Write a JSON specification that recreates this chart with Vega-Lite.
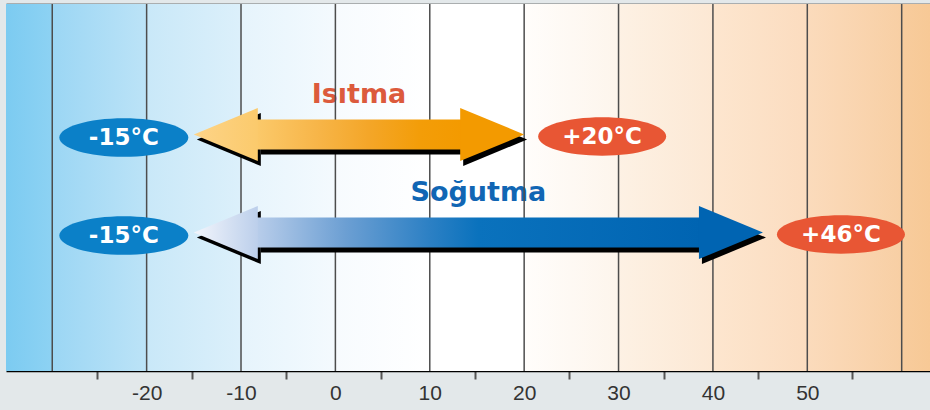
{
  "$schema": "https://vega.github.io/schema/vega-lite/v6.json",
  "width": 924,
  "height": 367,
  "autosize": {"type": "none"},
  "padding": {"left": 6, "top": 4, "right": 0, "bottom": 39},
  "background": "#e3e8ea",
  "config": {"view": {"stroke": null}, "scale": {"pointPadding": 0}},
  "datasets": {
    "arrows": [
      {"mode": "Isıtma", "low": -15, "high": 20, "lowLabel": "-15°C", "highLabel": "+20°C"},
      {"mode": "Soğutma", "low": -15, "high": 45.3, "lowLabel": "-15°C", "highLabel": "+46°C"}
    ],
    "gridlines": [
      {"t": -30}, {"t": -20}, {"t": -10}, {"t": 0}, {"t": 10},
      {"t": 20}, {"t": 30}, {"t": 40}, {"t": 50}, {"t": 60}
    ],
    "panel": [{"name": "background"}]
  },
  "resolve": {"axis": {"x": "independent"}},
  "layer": [
    {
      "data": {"name": "panel"},
      "mark": {
        "type": "rect",
        "fill": {
          "gradient": "linear", "x1": 0, "y1": 0, "x2": 1, "y2": 0,
          "stops": [
            {"offset": 0, "color": "#7ccbf1"}, {"offset": 0.05005, "color": "#8dd2f3"},
            {"offset": 0.05005, "color": "#9bd6f4"}, {"offset": 0.1522, "color": "#bce3f7"},
            {"offset": 0.1522, "color": "#c9e8f8"}, {"offset": 0.2543, "color": "#dcf0fb"},
            {"offset": 0.2543, "color": "#e6f4fc"}, {"offset": 0.3565, "color": "#f4fafe"},
            {"offset": 0.3565, "color": "#f7fbfe"}, {"offset": 0.4586, "color": "#ffffff"},
            {"offset": 0.5608, "color": "#ffffff"},
            {"offset": 0.5608, "color": "#fffdfb"}, {"offset": 0.6629, "color": "#fdf5ec"},
            {"offset": 0.6629, "color": "#fdf1e4"}, {"offset": 0.7651, "color": "#fce8d4"},
            {"offset": 0.7651, "color": "#fde6cf"}, {"offset": 0.8672, "color": "#fbdcbf"},
            {"offset": 0.8672, "color": "#fbdbbc"}, {"offset": 0.9694, "color": "#f8cfa4"},
            {"offset": 0.9694, "color": "#f8cc9d"}, {"offset": 1, "color": "#f7c996"}
          ]
        }
      },
      "encoding": {
        "x": {"value": 0}, "x2": {"value": "width"},
        "y": {"value": 0}, "y2": {"value": "height"}
      }
    },
    {
      "data": {"name": "arrows"},
      "transform": [{"fold": ["low", "high"], "as": ["end", "pos"]}],
      "mark": {"type": "text", "font": "DejaVu Sans", "fontWeight": "bold", "fontSize": 27, "baseline": "alphabetic", "align": "center", "dy": -32},
      "encoding": {
        "x": {"aggregate": "mean", "field": "pos", "type": "quantitative", "scale": {"domain": [-34.9, 63], "nice": false, "zero": false}, "axis": null},
        "y": {"field": "mode", "type": "nominal", "scale": {"type": "point", "domain": ["Isıtma", "Soğutma"], "range": [130.5, 228.5], "padding": 0}, "axis": null},
        "text": {"field": "mode"},
        "color": {"field": "mode", "type": "nominal", "scale": {"domain": ["Isıtma", "Soğutma"], "range": ["#dc5a3c", "#1166b4"]}, "legend": null}
      }
    },
    {
      "data": {"name": "gridlines"},
      "mark": {"type": "rule", "color": "#4d4d4d", "strokeWidth": 1.5},
      "encoding": {
        "x": {
          "field": "t", "type": "quantitative",
          "scale": {"domain": [-34.9, 63], "nice": false, "zero": false},
          "axis": {
            "orient": "bottom", "title": null, "grid": false,
            "values": [-25, -20, -15, -10, -5, 0, 5, 10, 15, 20, 25, 30, 35, 40, 45, 50, 55],
            "domain": true, "domainColor": "#000000", "domainWidth": 1.5,
            "ticks": true, "tickSize": 8, "tickWidth": 2, "tickColor": "#555555",
            "tickOffset": -2, "labelOffset": 2,
            "tickOpacity": {"condition": {"test": "datum.value % 10 === 0", "value": 0}, "value": 1},
            "labelExpr": "datum.value % 10 === 0 ? '' + datum.value : ''",
            "labelFont": "Liberation Sans", "labelFontSize": 21, "labelColor": "#333333",
            "labelPadding": 3, "labelOverlap": false, "labelFlush": false, "labelBound": false
          }
        }
      }
    },
    {
      "data": {"name": "arrows"},
      "mark": {"type": "rect", "color": "#000000", "height": 30, "xOffset": 67, "x2Offset": -61, "yOffset": 5},
      "encoding": {
        "x": {
          "field": "low", "type": "quantitative",
          "scale": {"domain": [-34.9, 63], "nice": false, "zero": false},
          "axis": {"orient": "top", "title": null, "labels": false, "ticks": false, "grid": false, "domain": true, "domainColor": "#000000", "domainWidth": 1.5}
        },
        "x2": {"field": "high"},
        "y": {"field": "mode", "type": "nominal", "scale": {"type": "point", "domain": ["Isıtma", "Soğutma"], "range": [130.5, 228.5], "padding": 0}, "axis": null}
      }
    },
    {
      "data": {"name": "arrows"},
      "mark": {"type": "point", "shape": "M -1 0 L 1 -0.83 L 1 0.83 Z", "size": 4096, "filled": true, "opacity": 1, "fill": "#000000", "strokeWidth": 0, "xOffset": 35, "yOffset": 5},
      "encoding": {
        "x": {"field": "low", "type": "quantitative", "scale": {"domain": [-34.9, 63], "nice": false, "zero": false}, "axis": null},
        "y": {"field": "mode", "type": "nominal", "scale": {"type": "point", "domain": ["Isıtma", "Soğutma"], "range": [130.5, 228.5], "padding": 0}, "axis": null}
      }
    },
    {
      "data": {"name": "arrows"},
      "mark": {"type": "point", "shape": "M 1 0 L -1 -0.83 L -1 0.83 Z", "size": 4096, "filled": true, "opacity": 1, "fill": "#000000", "strokeWidth": 0, "xOffset": -29, "yOffset": 5},
      "encoding": {
        "x": {"field": "high", "type": "quantitative", "scale": {"domain": [-34.9, 63], "nice": false, "zero": false}, "axis": null},
        "y": {"field": "mode", "type": "nominal", "scale": {"type": "point", "domain": ["Isıtma", "Soğutma"], "range": [130.5, 228.5], "padding": 0}, "axis": null}
      }
    },
    {
      "data": {"name": "arrows"},
      "transform": [{"filter": "datum.mode === 'Isıtma'"}],
      "mark": {"type": "rect", "height": 30, "xOffset": 63, "x2Offset": -63,
        "fill": {"gradient": "linear", "x1": 0, "y1": 0, "x2": 1, "y2": 0, "stops": [
          {"offset": 0, "color": "#fbc96a"}, {"offset": 0.3, "color": "#f7b548"}, {"offset": 0.55, "color": "#f4a628"}, {"offset": 0.8, "color": "#f39d08"}, {"offset": 1, "color": "#f39a00"}]}},
      "encoding": {
        "x": {"field": "low", "type": "quantitative", "scale": {"domain": [-34.9, 63], "nice": false, "zero": false}, "axis": null},
        "x2": {"field": "high"},
        "y": {"field": "mode", "type": "nominal", "scale": {"type": "point", "domain": ["Isıtma", "Soğutma"], "range": [130.5, 228.5], "padding": 0}, "axis": null}
      }
    },
    {
      "data": {"name": "arrows"},
      "transform": [{"filter": "datum.mode === 'Isıtma'"}],
      "mark": {"type": "point", "shape": "M -1 0 L 1 -0.83 L 1 0.83 Z", "size": 4096, "filled": true, "opacity": 1, "strokeWidth": 0, "xOffset": 32,
        "fill": {"gradient": "linear", "x1": 0, "y1": 0, "x2": 1, "y2": 0, "stops": [{"offset": 0, "color": "#fdd488"}, {"offset": 1, "color": "#fbca6c"}]}},
      "encoding": {
        "x": {"field": "low", "type": "quantitative", "scale": {"domain": [-34.9, 63], "nice": false, "zero": false}, "axis": null},
        "y": {"field": "mode", "type": "nominal", "scale": {"type": "point", "domain": ["Isıtma", "Soğutma"], "range": [130.5, 228.5], "padding": 0}, "axis": null}
      }
    },
    {
      "data": {"name": "arrows"},
      "transform": [{"filter": "datum.mode === 'Isıtma'"}],
      "mark": {"type": "point", "shape": "M 1 0 L -1 -0.83 L -1 0.83 Z", "size": 4096, "filled": true, "opacity": 1, "strokeWidth": 0, "xOffset": -32, "fill": "#f39a00"},
      "encoding": {
        "x": {"field": "high", "type": "quantitative", "scale": {"domain": [-34.9, 63], "nice": false, "zero": false}, "axis": null},
        "y": {"field": "mode", "type": "nominal", "scale": {"type": "point", "domain": ["Isıtma", "Soğutma"], "range": [130.5, 228.5], "padding": 0}, "axis": null}
      }
    },
    {
      "data": {"name": "arrows"},
      "transform": [{"filter": "datum.mode === 'Soğutma'"}],
      "mark": {"type": "rect", "height": 30, "xOffset": 63, "x2Offset": -63,
        "fill": {"gradient": "linear", "x1": 0, "y1": 0, "x2": 1, "y2": 0, "stops": [
          {"offset": 0, "color": "#b8cdea"}, {"offset": 0.2, "color": "#6c9fd3"}, {"offset": 0.39, "color": "#2c80c4"}, {"offset": 0.5, "color": "#0a72bd"}, {"offset": 1, "color": "#0064b2"}]}},
      "encoding": {
        "x": {"field": "low", "type": "quantitative", "scale": {"domain": [-34.9, 63], "nice": false, "zero": false}, "axis": null},
        "x2": {"field": "high"},
        "y": {"field": "mode", "type": "nominal", "scale": {"type": "point", "domain": ["Isıtma", "Soğutma"], "range": [130.5, 228.5], "padding": 0}, "axis": null}
      }
    },
    {
      "data": {"name": "arrows"},
      "transform": [{"filter": "datum.mode === 'Soğutma'"}],
      "mark": {"type": "point", "shape": "M -1 0 L 1 -0.83 L 1 0.83 Z", "size": 4096, "filled": true, "opacity": 1, "strokeWidth": 0, "xOffset": 32,
        "fill": {"gradient": "linear", "x1": 0, "y1": 0, "x2": 1, "y2": 0, "stops": [{"offset": 0, "color": "#f3f6fc"}, {"offset": 1, "color": "#bccfeb"}]}},
      "encoding": {
        "x": {"field": "low", "type": "quantitative", "scale": {"domain": [-34.9, 63], "nice": false, "zero": false}, "axis": null},
        "y": {"field": "mode", "type": "nominal", "scale": {"type": "point", "domain": ["Isıtma", "Soğutma"], "range": [130.5, 228.5], "padding": 0}, "axis": null}
      }
    },
    {
      "data": {"name": "arrows"},
      "transform": [{"filter": "datum.mode === 'Soğutma'"}],
      "mark": {"type": "point", "shape": "M 1 0 L -1 -0.83 L -1 0.83 Z", "size": 4096, "filled": true, "opacity": 1, "strokeWidth": 0, "xOffset": -32, "fill": "#0064b2"},
      "encoding": {
        "x": {"field": "high", "type": "quantitative", "scale": {"domain": [-34.9, 63], "nice": false, "zero": false}, "axis": null},
        "y": {"field": "mode", "type": "nominal", "scale": {"type": "point", "domain": ["Isıtma", "Soğutma"], "range": [130.5, 228.5], "padding": 0}, "axis": null}
      }
    },
    {
      "data": {"name": "arrows"},
      "mark": {"type": "point", "shape": "M -1 0 A 1 0.3 0 0 1 1 0 A 1 0.3 0 0 1 -1 0 Z", "size": 16641, "filled": true, "opacity": 1, "strokeWidth": 0, "fill": "#0b80c8", "xOffset": -70, "yOffset": 3},
      "encoding": {
        "x": {"field": "low", "type": "quantitative", "scale": {"domain": [-34.9, 63], "nice": false, "zero": false}, "axis": null},
        "y": {"field": "mode", "type": "nominal", "scale": {"type": "point", "domain": ["Isıtma", "Soğutma"], "range": [130.5, 228.5], "padding": 0}, "axis": null}
      }
    },
    {
      "data": {"name": "arrows"},
      "mark": {"type": "point", "shape": "M -1 0 A 1 0.3 0 0 1 1 0 A 1 0.3 0 0 1 -1 0 Z", "size": 16384, "filled": true, "opacity": 1, "strokeWidth": 0, "fill": "#e85634", "xOffset": 78, "yOffset": 2},
      "encoding": {
        "x": {"field": "high", "type": "quantitative", "scale": {"domain": [-34.9, 63], "nice": false, "zero": false}, "axis": null},
        "y": {"field": "mode", "type": "nominal", "scale": {"type": "point", "domain": ["Isıtma", "Soğutma"], "range": [130.5, 228.5], "padding": 0}, "axis": null}
      }
    },
    {
      "data": {"name": "arrows"},
      "mark": {"type": "text", "font": "DejaVu Sans", "fontWeight": "bold", "fontSize": 23, "color": "#ffffff", "align": "center", "baseline": "middle", "dx": -70, "dy": 3},
      "encoding": {
        "x": {"field": "low", "type": "quantitative", "scale": {"domain": [-34.9, 63], "nice": false, "zero": false}, "axis": null},
        "y": {"field": "mode", "type": "nominal", "scale": {"type": "point", "domain": ["Isıtma", "Soğutma"], "range": [130.5, 228.5], "padding": 0}, "axis": null},
        "text": {"field": "lowLabel"}
      }
    },
    {
      "data": {"name": "arrows"},
      "mark": {"type": "text", "font": "DejaVu Sans", "fontWeight": "bold", "fontSize": 23, "color": "#ffffff", "align": "center", "baseline": "middle", "dx": 78, "dy": 2},
      "encoding": {
        "x": {"field": "high", "type": "quantitative", "scale": {"domain": [-34.9, 63], "nice": false, "zero": false}, "axis": null},
        "y": {"field": "mode", "type": "nominal", "scale": {"type": "point", "domain": ["Isıtma", "Soğutma"], "range": [130.5, 228.5], "padding": 0}, "axis": null},
        "text": {"field": "highLabel"}
      }
    }
  ]
}
